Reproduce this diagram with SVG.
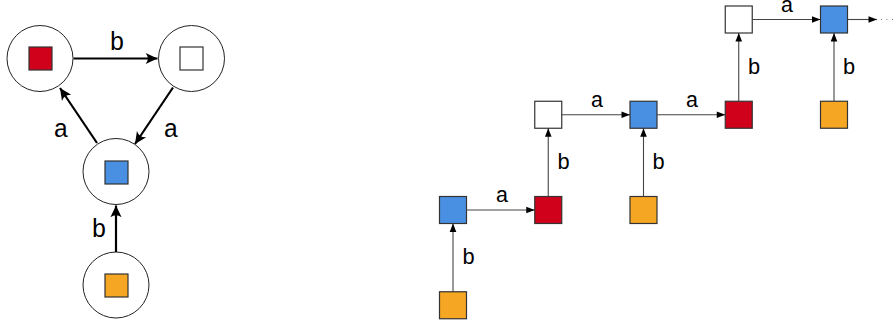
<svg xmlns="http://www.w3.org/2000/svg" width="896" height="322" viewBox="0 0 896 322">
<defs>
<marker id="big" markerUnits="userSpaceOnUse" markerWidth="14" markerHeight="14" viewBox="-12 -6 13 12" refX="0" refY="0" orient="auto">
<path d="M0,0 L-11,-5.2 Q-7,0 -11,5.2 Z" fill="#000"/>
</marker>
<marker id="tri" markerUnits="userSpaceOnUse" markerWidth="10" markerHeight="8" viewBox="-9 -4 10 8" refX="0" refY="0" orient="auto">
<path d="M0,0 L-8.5,-3.3 L-8.5,3.3 Z" fill="#000"/>
</marker>
<style>
.circ{fill:#fff;stroke:#222;stroke-width:1}
.sq{stroke:#333;stroke-width:1.2}
.red{fill:#D0021B}.blue{fill:#4A90E2}.org{fill:#F5A623}.wht{fill:#fff}
.thick{stroke:#000;stroke-width:2.2;fill:none}
.thin{stroke:#444;stroke-width:1.1;fill:none}
text{fill:#000;text-anchor:middle;font-family:"Courier New","Liberation Mono",monospace}
</style>
</defs>

<g id="left-red"><circle class="circ" cx="40" cy="58.5" r="33"/><rect class="sq red" x="29" y="47" width="23" height="23"/></g>
<g id="left-white"><circle class="circ" cx="191.5" cy="58.5" r="33"/><rect class="sq wht" x="180" y="47" width="23" height="23"/></g>
<g id="left-blue"><circle class="circ" cx="116" cy="171.5" r="33"/><rect class="sq blue" x="105" y="161" width="23" height="23"/></g>
<g id="left-orange"><circle class="circ" cx="116" cy="285" r="33"/><rect class="sq org" x="105" y="274" width="23" height="23"/></g>

<g id="r-o0"><rect class="sq org" x="439.5" y="291.75" width="27" height="27"/></g>
<g id="r-b0"><rect class="sq blue" x="439.5" y="196.5" width="27" height="27"/></g>
<g id="r-r1"><rect class="sq red" x="534.75" y="196.5" width="27" height="27"/></g>
<g id="r-w1"><rect class="sq wht" x="534.75" y="101.25" width="27" height="27"/></g>
<g id="r-o2"><rect class="sq org" x="630" y="196.5" width="27" height="27"/></g>
<g id="r-b2"><rect class="sq blue" x="630" y="101.25" width="27" height="27"/></g>
<g id="r-r3"><rect class="sq red" x="725.25" y="101.25" width="27" height="27"/></g>
<g id="r-w3"><rect class="sq wht" x="725.25" y="6" width="27" height="27"/></g>
<g id="r-o4"><rect class="sq org" x="820.5" y="101.25" width="27" height="27"/></g>
<g id="r-b4"><rect class="sq blue" x="820.5" y="6" width="27" height="27"/></g>

<g id="connectors">
<line class="thick" x1="73.5" y1="58.5" x2="157.5" y2="58.5" marker-end="url(#big)"/>
<line class="thick" x1="97" y1="143" x2="60" y2="88" marker-end="url(#big)"/>
<line class="thick" x1="173" y1="87.5" x2="135" y2="144" marker-end="url(#big)"/>
<line class="thick" x1="116" y1="252" x2="116" y2="205.5" marker-end="url(#big)"/>

<line class="thin" x1="453" y1="291.75" x2="453" y2="223.5" marker-end="url(#tri)"/>
<line class="thin" x1="466.5" y1="210" x2="534.75" y2="210" marker-end="url(#tri)"/>
<line class="thin" x1="548.25" y1="196.5" x2="548.25" y2="128.25" marker-end="url(#tri)"/>
<line class="thin" x1="561.75" y1="114.75" x2="630" y2="114.75" marker-end="url(#tri)"/>
<line class="thin" x1="643.5" y1="196.5" x2="643.5" y2="128.25" marker-end="url(#tri)"/>
<line class="thin" x1="657" y1="114.75" x2="725.25" y2="114.75" marker-end="url(#tri)"/>
<line class="thin" x1="738.75" y1="101.25" x2="738.75" y2="33" marker-end="url(#tri)"/>
<line class="thin" x1="752.25" y1="19.5" x2="820.5" y2="19.5" marker-end="url(#tri)"/>
<line class="thin" x1="834" y1="101.25" x2="834" y2="33" marker-end="url(#tri)"/>
<line class="thin" x1="847.5" y1="19.5" x2="877" y2="19.5" marker-end="url(#tri)"/>
<line x1="881" y1="19.5" x2="896" y2="19.5" stroke="#777" stroke-width="1" stroke-dasharray="1 4.5"/>
</g>

<g id="labels-left" font-size="25">
<text x="117" y="50">b</text>
<text x="61" y="137">a</text>
<text x="171" y="137">a</text>
<text x="99" y="237">b</text>
</g>
<g id="labels-right" font-size="22">
<text x="468.5" y="264">b</text>
<text x="502" y="202">a</text>
<text x="563.5" y="169">b</text>
<text x="597" y="107">a</text>
<text x="658.5" y="169">b</text>
<text x="692" y="107">a</text>
<text x="754" y="74">b</text>
<text x="787" y="11.5">a</text>
<text x="849" y="74">b</text>
</g>
</svg>
